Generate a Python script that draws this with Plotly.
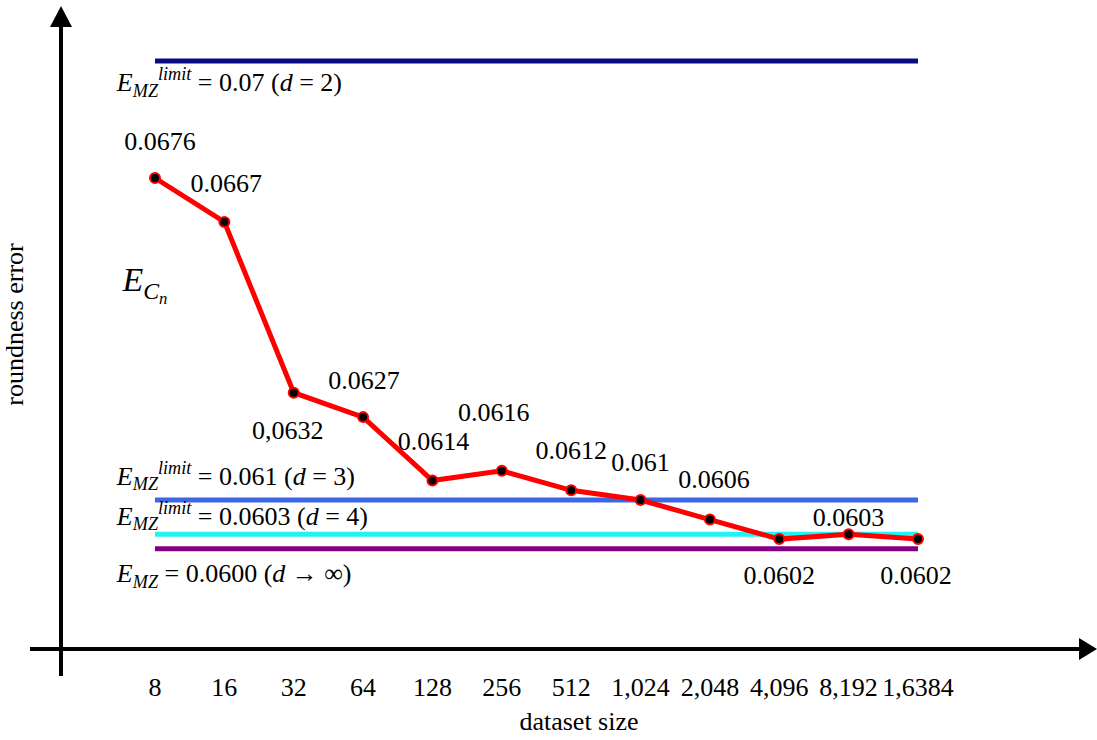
import plotly.graph_objects as go

# ---- data ----
dataset_sizes = ["8", "16", "32", "64", "128", "256", "512", "1,024", "2,048", "4,096", "8,192", "1,6384"]
roundness_error = [0.0676, 0.0667, 0.0632, 0.0627, 0.0614, 0.0616, 0.0612, 0.061, 0.0606, 0.0602, 0.0603, 0.0602]
point_labels = ["0.0676", "0.0667", "0,0632", "0.0627", "0.0614", "0.0616", "0.0612", "0.061", "0.0606", "0.0602", "0.0603", "0.0602"]

limit_values = [0.07, 0.061, 0.0603, 0.0600]
limit_texts = [
    "<i>E</i><sub><i>MZ</i></sub><sup><i>limit</i></sup> = 0.07 (<i>d</i> = 2)",
    "<i>E</i><sub><i>MZ</i></sub><sup><i>limit</i></sup> = 0.061 (<i>d</i> = 3)",
    "<i>E</i><sub><i>MZ</i></sub><sup><i>limit</i></sup> = 0.0603 (<i>d</i> = 4)",
    "<i>E</i><sub><i>MZ</i></sub> = 0.0600 (<i>d</i> \u2192 \u221e)",
]

# ---- styles ----
FONT = "Liberation Serif"
FS = 26
limit_colors = ["#0A0A82", "#3D66E6", "#22F2F2", "#820082"]
limit_label_shift = [-24, 22, 16, -27]  # px, positive = above line
label_shift = [(5, 35), (2, 36), (-6, -40), (1, 35), (1, 37), (-8, 56), (0, 38),
               (0, 36), (4, 38), (0, -38), (0, 15), (-2, -38)]

# axis geometry (pixels)
L, R, T, B, W, H = 61, 0, 0, 91, 1097, 740
PW, PH = W - L - R, H - T - B
XR = [-1.3552, 13.581]
YR = [0.057948, 0.071248]
XPX = PW / (XR[1] - XR[0])   # pixels per x unit
YPX = PH / (YR[1] - YR[0])   # pixels per y unit

x_idx = list(range(len(dataset_sizes)))

fig = go.Figure()

for v, c in zip(limit_values, limit_colors):
    fig.add_trace(go.Scatter(x=[x_idx[0], x_idx[-1]], y=[v, v], mode="lines",
                             line=dict(color=c, width=5), hoverinfo="skip",
                             showlegend=False))

fig.add_trace(go.Scatter(x=x_idx, y=roundness_error, mode="lines+markers",
                         line=dict(color="#FF0000", width=5),
                         marker=dict(color="black", size=10,
                                     line=dict(color="#FF0000", width=2)),
                         showlegend=False))

# value labels
fig.add_trace(go.Scatter(
    x=[xi + s[0] / XPX for xi, s in zip(x_idx, label_shift)],
    y=[v + s[1] / YPX for v, s in zip(roundness_error, label_shift)],
    mode="text", text=point_labels, textposition="middle center",
    textfont=dict(family=FONT, size=FS, color="black"),
    hoverinfo="skip", showlegend=False))

# limit labels
fig.add_trace(go.Scatter(
    x=[-0.55] * len(limit_values),
    y=[v + s / YPX for v, s in zip(limit_values, limit_label_shift)],
    mode="text", text=limit_texts, textposition="middle right",
    textfont=dict(family=FONT, size=FS, color="black"),
    hoverinfo="skip", showlegend=False))

fig.add_trace(go.Scatter(
    x=[-0.47], y=[0.06545], mode="text",
    text=["<i>E</i><sub><i>C</i><sub><i>n</i></sub></sub>"],
    textposition="middle right",
    textfont=dict(family=FONT, size=34, color="black"),
    hoverinfo="skip", showlegend=False))

def px(xp):
    return (xp - L) / PW
def py(yp):
    return (H - B - yp) / PH

shapes = [
    dict(type="line", xref="paper", yref="paper", x0=px(30), x1=px(1082), y0=py(649), y1=py(649),
         line=dict(color="black", width=4)),
    dict(type="line", xref="paper", yref="paper", x0=px(61), x1=px(61), y0=py(676), y1=py(24),
         line=dict(color="black", width=4)),
    dict(type="path", xref="paper", yref="paper",
         path=f"M {px(1097)},{py(649)} L {px(1079)},{py(638)} L {px(1079)},{py(660)} Z",
         fillcolor="black", line=dict(color="black", width=0)),
    dict(type="path", xref="paper", yref="paper",
         path=f"M {px(61)},{py(6)} L {px(50)},{py(27)} L {px(72)},{py(27)} Z",
         fillcolor="black", line=dict(color="black", width=0)),
]

fig.update_layout(
    width=W, height=H,
    margin=dict(l=L, r=R, t=T, b=B, pad=0),
    paper_bgcolor="white", plot_bgcolor="white",
    shapes=shapes,
    font=dict(family=FONT, size=FS, color="black"),
    xaxis=dict(range=XR, tickmode="array", tickvals=x_idx,
               ticktext=dataset_sizes, showgrid=False, zeroline=False,
               showline=False, ticks="", ticklabelstandoff=20,
               tickfont=dict(family=FONT, size=FS),
               title=dict(text="dataset size", standoff=10,
                          font=dict(family=FONT, size=FS)),
               automargin=False, fixedrange=True),
    yaxis=dict(range=YR, showgrid=False, zeroline=False,
               showline=False, showticklabels=False, ticks="",
               title=dict(text="roundness error", standoff=28,
                          font=dict(family=FONT, size=FS)),
               automargin=False, fixedrange=True),
)

fig.write_html("out.html", config={"displayModeBar": False},
               post_script="document.body.style.margin='0';document.body.style.overflow='hidden';")
